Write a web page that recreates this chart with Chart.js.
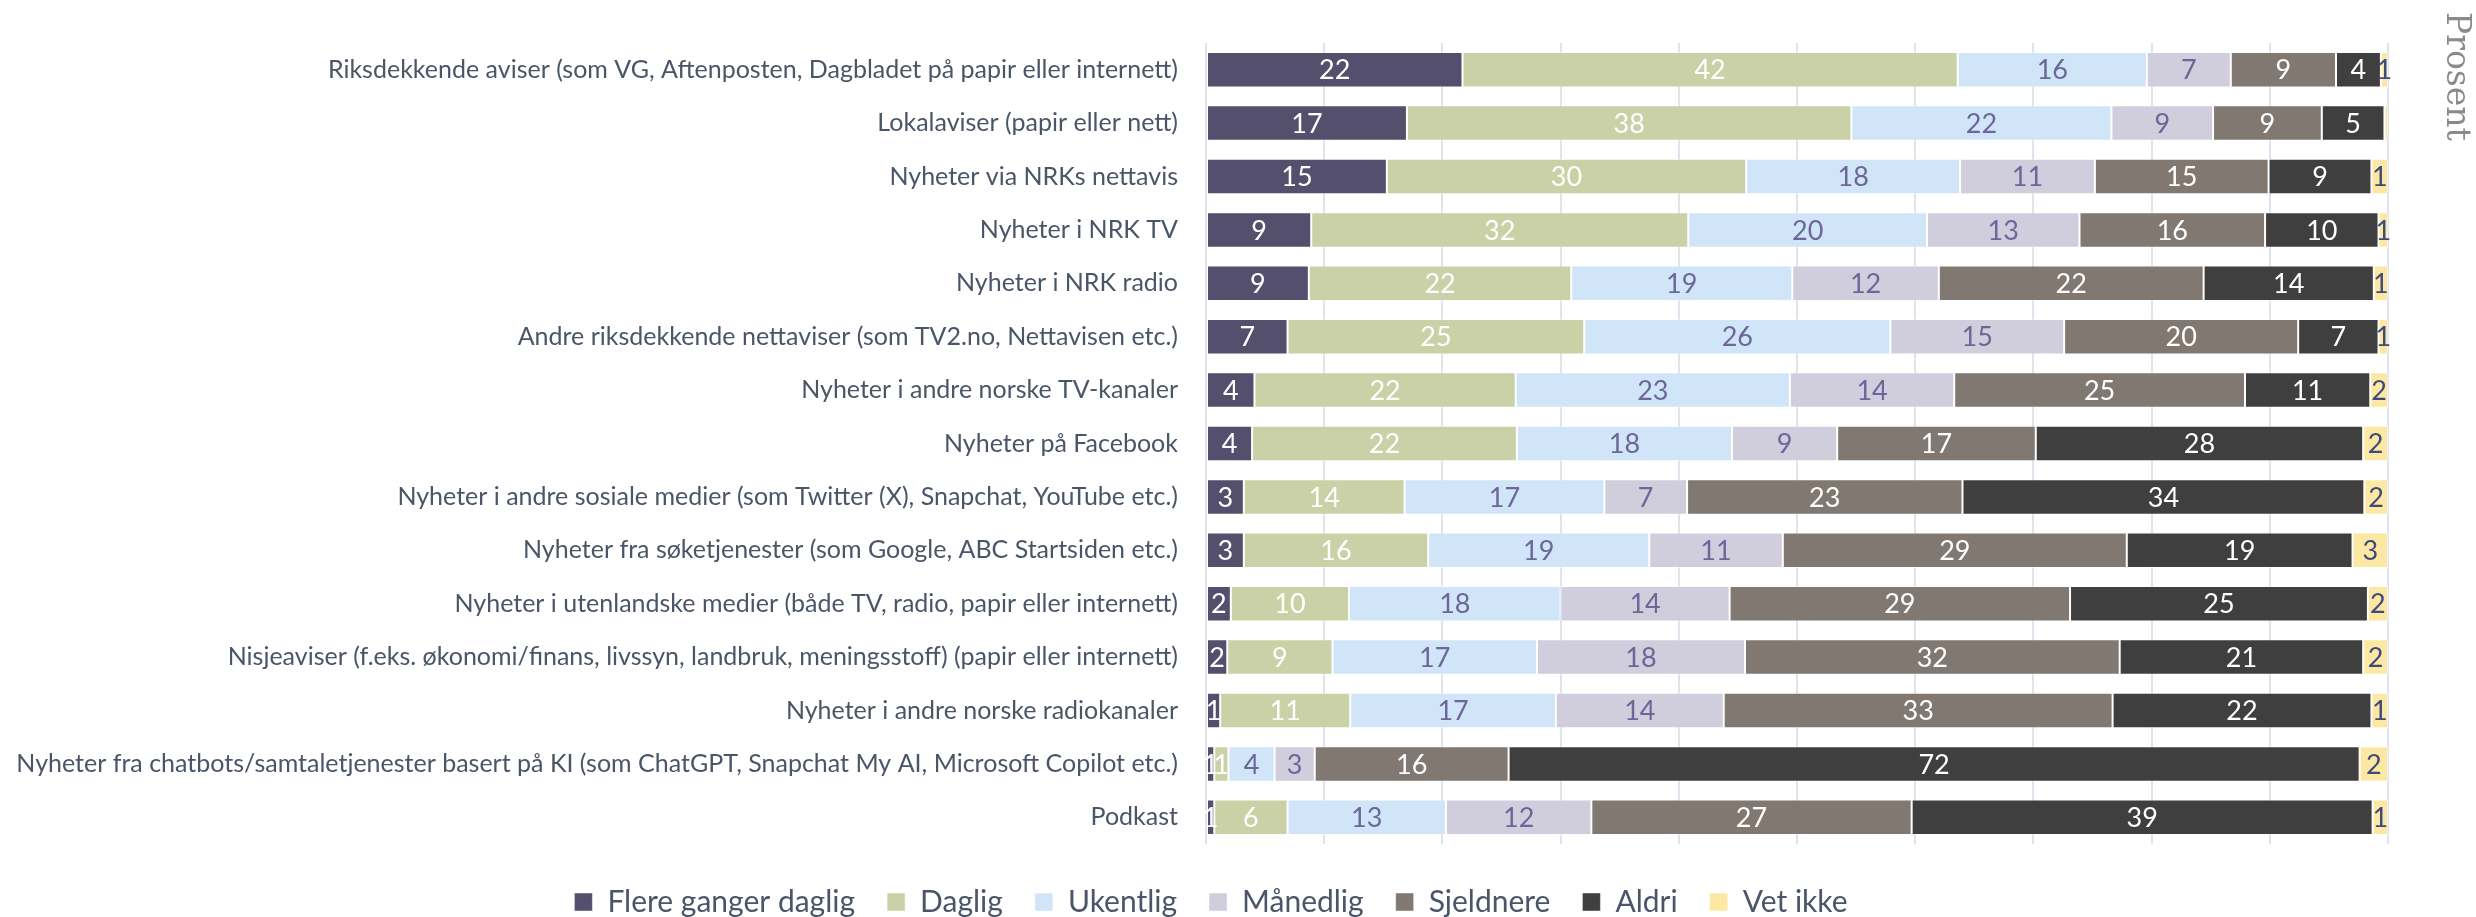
<!DOCTYPE html>
<html>
<head>
<meta charset="utf-8">
<script src="https://cdn.jsdelivr.net/npm/chart.js@4.4.1/dist/chart.umd.min.js"></script>
<style>
  html, body { margin: 0; padding: 0; background: #fff; }
  #wrap { width: 2476px; height: 917px; }
</style>
</head>
<body>
<div id="wrap"><canvas id="myChart"></canvas></div>
<script>
// categories (top to bottom)
const categories = [
  'Riksdekkende aviser (som VG, Aftenposten, Dagbladet på papir eller internett)',
  'Lokalaviser (papir eller nett)',
  'Nyheter via NRKs nettavis',
  'Nyheter i NRK TV',
  'Nyheter i NRK radio',
  'Andre riksdekkende nettaviser (som TV2.no, Nettavisen etc.)',
  'Nyheter i andre norske TV-kanaler',
  'Nyheter på Facebook',
  'Nyheter i andre sosiale medier (som Twitter (X), Snapchat, YouTube etc.)',
  'Nyheter fra søketjenester (som Google, ABC Startsiden etc.)',
  'Nyheter i utenlandske medier (både TV, radio, papir eller internett)',
  'Nisjeaviser (f.eks. økonomi/finans, livssyn, landbruk, meningsstoff) (papir eller internett)',
  'Nyheter i andre norske radiokanaler',
  'Nyheter fra chatbots/samtaletjenester basert på KI (som ChatGPT, Snapchat My AI, Microsoft Copilot etc.)',
  'Podkast'
];

// percent values per answer
const flereGangerDaglig = [21.7, 17.0, 15.3, 8.9, 8.7, 6.9, 4.1, 3.9, 3.2, 3.2, 2.1, 1.8, 1.2, 0.7, 0.7];
const daglig            = [41.9, 37.6, 30.4, 31.9, 22.2, 25.1, 22.1, 22.4, 13.6, 15.6, 10.0, 8.9, 11.0, 1.2, 6.2];
const ukentlig          = [16.0, 22.0, 18.1, 20.2, 18.7, 25.9, 23.2, 18.2, 16.9, 18.7, 17.9, 17.3, 17.4, 3.9, 13.4];
const maanedlig         = [7.1, 8.6, 11.4, 12.9, 12.4, 14.7, 13.9, 8.9, 7.0, 11.3, 14.3, 17.6, 14.2, 3.4, 12.3];
const sjeldnere         = [8.9, 9.2, 14.7, 15.7, 22.4, 19.8, 24.6, 16.8, 23.3, 29.1, 28.8, 31.7, 32.9, 16.4, 27.1];
const aldri             = [3.8, 5.3, 8.7, 9.6, 14.4, 6.8, 10.6, 27.7, 34.0, 19.1, 25.2, 20.6, 21.9, 72.0, 39.0];
const vetIkke           = [0.6, 0.3, 1.4, 0.8, 1.2, 0.8, 1.5, 2.1, 2.0, 3.0, 1.7, 2.1, 1.4, 2.4, 1.3];

const seriesNames = ['Flere ganger daglig', 'Daglig', 'Ukentlig', 'Månedlig', 'Sjeldnere', 'Aldri', 'Vet ikke'];
const seriesValues = [flereGangerDaglig, daglig, ukentlig, maanedlig, sjeldnere, aldri, vetIkke];
const barColors = ['#534f6d', '#cbd1a6', '#d1e5f8', '#d0cedd', '#817872', '#3f3f3f', '#fde8a3'];
const labelColors = ['#ffffff', '#ffffff', '#6c6798', '#6c6798', '#ffffff', '#ffffff', '#3d4a7a'];
const axisTitle = 'Prosent';

const textColor = '#4a5568';
const fontFamily = 'Lato, "Open Sans", sans-serif';

// draws the rounded value in the middle of every segment + the rotated axis title
const valueLabels = {
  id: 'valueLabels',
  afterDatasetsDraw(chart) {
    const ctx = chart.ctx;
    ctx.save();
    ctx.font = '27px ' + fontFamily;
    ctx.textAlign = 'center';
    ctx.textBaseline = 'middle';
    chart.data.datasets.forEach((ds, i) => {
      const meta = chart.getDatasetMeta(i);
      meta.data.forEach((bar, j) => {
        const v = ds.data[j];
        if (v < 0.5) return;
        const p = bar.getCenterPoint();
        ctx.fillStyle = labelColors[i];
        ctx.fillText(Math.round(v), p.x, p.y + 1);
      });
    });
    ctx.restore();
  },
  afterDraw(chart) {
    const ctx = chart.ctx;
    ctx.save();
    ctx.translate(chart.width - 20, 12);
    ctx.rotate(Math.PI / 2);
    ctx.font = '33px "DejaVu Serif", serif';
    ctx.fillStyle = '#8a8a8a';
    ctx.textAlign = 'left';
    ctx.textBaseline = 'middle';
    ctx.fillText(axisTitle, 0, 0);
    ctx.restore();
  }
};

const data = {
  labels: categories,
  datasets: seriesNames.map((name, i) => ({
    label: name,
    data: seriesValues[i],
    backgroundColor: barColors[i],
    borderColor: 'rgba(255,255,255,0.45)',
    borderWidth: 1,
    borderSkipped: false,
    barPercentage: 0.665,
    categoryPercentage: 1
  }))
};

const config = {
  type: 'bar',
  data: data,
  options: {
    indexAxis: 'y',
    responsive: true,
    maintainAspectRatio: false,
    animation: false,
    layout: { padding: { top: 15, left: 0, right: 54, bottom: -10 } },
    plugins: {
      tooltip: { enabled: false },
      legend: {
        position: 'bottom',
        labels: {
          color: textColor,
          font: { family: fontFamily, size: 30 },
          boxWidth: 18,
          boxHeight: 18,
          padding: 32
        }
      }
    },
    scales: {
      x: {
        stacked: true,
        min: 0,
        max: 100,
        ticks: { display: false, stepSize: 10 },
        grid: { color: '#dfe4ec', lineWidth: 2, drawTicks: false },
        border: { display: false },
        afterFit: (s) => { s.height = 11; }
      },
      y: {
        stacked: true,
        grid: { display: false, drawTicks: false },
        border: { display: false },
        ticks: {
          color: textColor,
          font: { family: fontFamily, size: 25 },
          padding: 28,
          autoSkip: false
        },
        afterFit: (s) => { s.width = 1206; }
      },
      // empty spacer on the right, leaves room for the title
      y2: {
        type: 'category',
        position: 'right',
        grid: { display: false, drawTicks: false },
        border: { display: false },
        ticks: { display: false },
        afterFit: (s) => { s.width = 34; }
      }
    }
  },
  plugins: [valueLabels]
};

const myChart = new Chart(document.getElementById('myChart'), config);
</script>
</body>
</html>
